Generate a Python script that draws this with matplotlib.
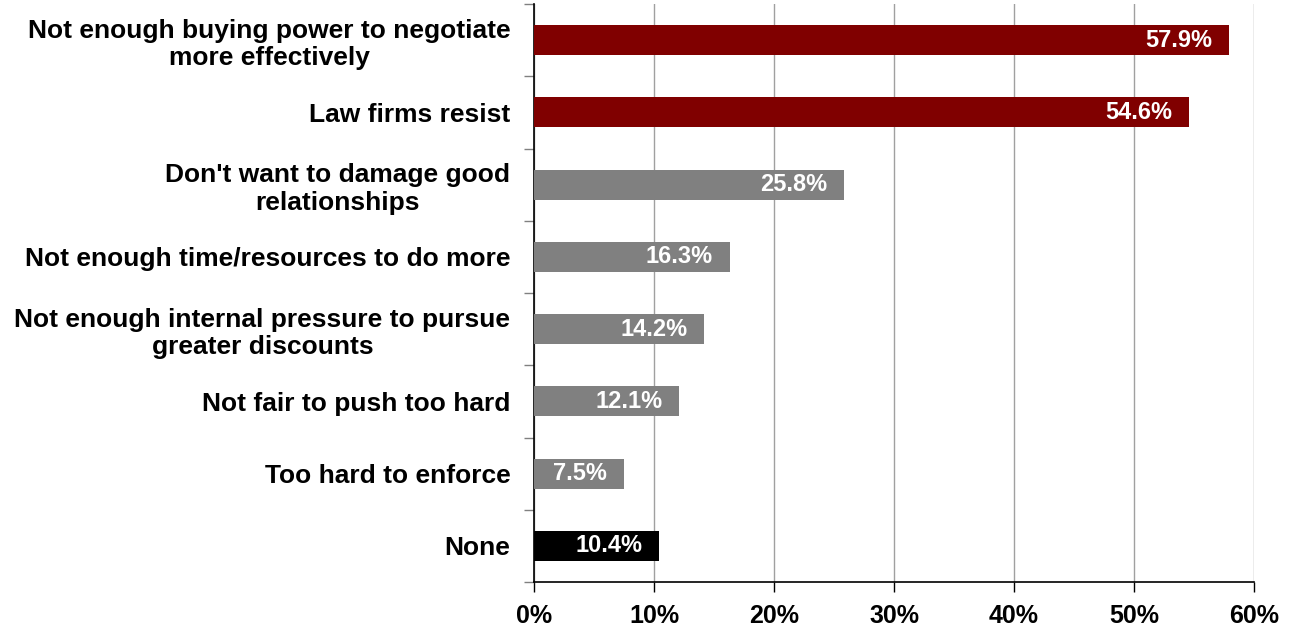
import matplotlib.pyplot as plt
from matplotlib.ticker import FixedLocator, PercentFormatter

plt.rcParams['font.family'] = ['Liberation Sans', 'DejaVu Sans']

categories = ["Not enough buying power to negotiate\nmore effectively",
              "Law firms resist",
              "Don't want to damage good\nrelationships",
              "Not enough time/resources to do more",
              "Not enough internal pressure to pursue\ngreater discounts",
              "Not fair to push too hard",
              "Too hard to enforce",
              "None"]
values = [57.9, 54.6, 25.8, 16.3, 14.2, 12.1, 7.5, 10.4]
colors = ["#800000", "#800000", "#808080", "#808080", "#808080", "#808080", "#808080", "#000000"]

fig = plt.figure(figsize=(12.94, 6.3), dpi=100)
ax = fig.add_axes([534/1294, 48/630, 720/1294, 578/630])

ypos = list(range(len(categories)))
ax.barh(ypos, values, height=0.415, color=colors, zorder=3)
for y, v in zip(ypos, values):
    ax.annotate(f"{v:.1f}%", (v, y), xytext=(-12, 0), textcoords="offset points",
                ha="right", va="center", color="white", fontsize=17, fontweight="bold", zorder=4)

ax.set_ylim(len(categories) - 0.5, -0.5)
ax.set_xlim(0, 60)
ax.set_yticks(ypos)
ax.set_yticklabels(categories, fontsize=19, fontweight="bold", multialignment="center", linespacing=1.2)
ax.tick_params(axis="y", which="major", length=0, pad=17)
ax.yaxis.set_minor_locator(FixedLocator([i - 0.5 for i in range(len(categories) + 1)]))
ax.tick_params(axis="y", which="minor", length=7, color="#808080", width=1)

ax.set_xticks(range(0, 61, 10))
ax.xaxis.set_major_formatter(PercentFormatter(decimals=0))
ax.tick_params(axis="x", length=7, width=1, pad=9, labelsize=18)
for lbl in ax.get_xticklabels():
    lbl.set_fontweight("bold")
ax.grid(axis="x", color="#a0a0a0", linewidth=1, zorder=0)

ax.spines["top"].set_visible(False)
ax.spines["right"].set_visible(False)
ax.spines["left"].set_linewidth(1.2)
ax.spines["bottom"].set_linewidth(1.2)

fig.savefig("out.png", dpi=100)
